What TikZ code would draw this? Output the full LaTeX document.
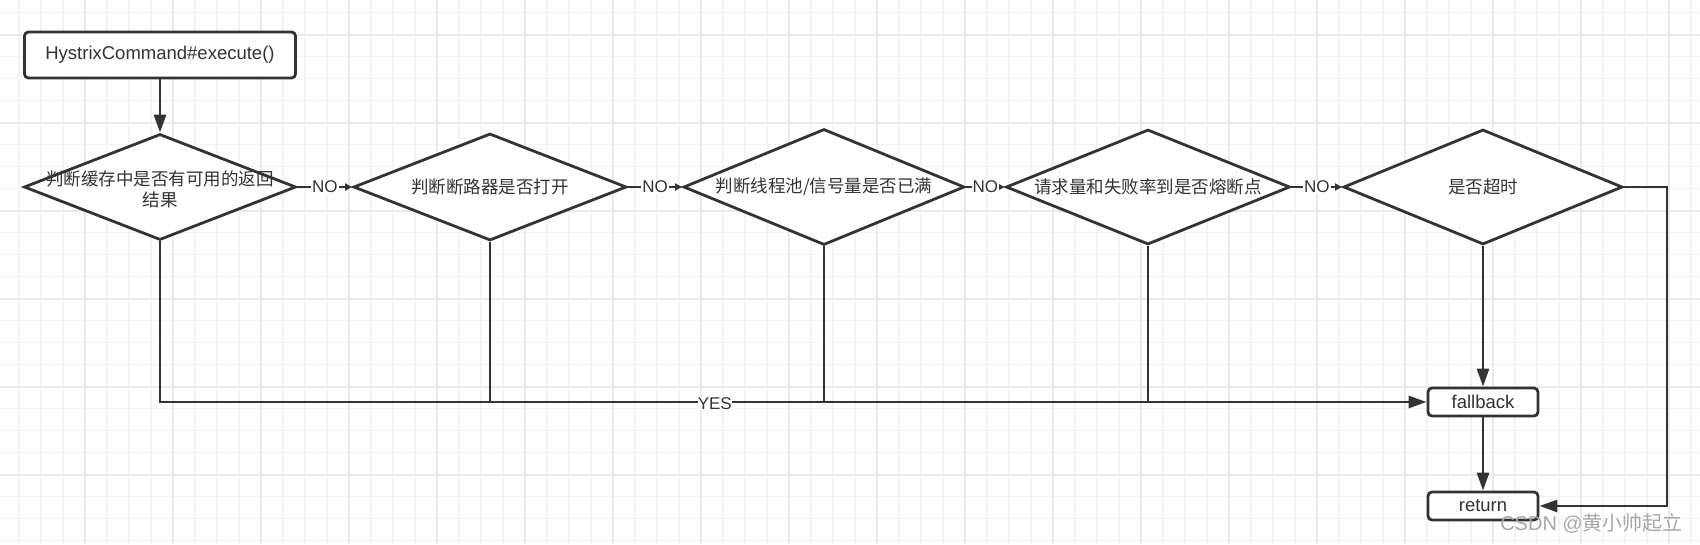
\documentclass[tikz,border=0pt]{standalone}
\usepackage{fontspec}
\setmainfont{Liberation Sans}
\newfontfamily\cjk{Noto Sans CJK SC}
\usetikzlibrary{shapes.geometric,arrows.meta}
\definecolor{ink}{HTML}{333333}
\definecolor{gridminor}{HTML}{F4F4F4}
\definecolor{gridmajor}{HTML}{EAEAEA}
\definecolor{wm}{HTML}{A8A8A8}
\tikzset{
  flow/.style={draw=ink, line width=2.8pt},
  dia/.style={flow, shape=diamond, inner sep=0pt, fill=white},
  boxnode/.style={flow, rounded corners=4pt, fill=white, inner sep=0pt, text=ink, font=\fontsize{18.5}{22}\selectfont},
  txt/.style={text=ink, font=\cjk\fontsize{17.5}{21}\selectfont, align=center, inner sep=0pt},
  bigarrow/.style={draw=ink, line width=2.8pt, -{Triangle[length=18pt,width=12pt]}},
  smallarrow/.style={draw=ink, line width=2.8pt, -{Triangle[length=7pt,width=7pt]}},
  plainline/.style={draw=ink, line width=2.8pt},
  lab/.style={fill=white, text=ink, inner sep=1pt, font=\fontsize{17}{19}\selectfont}
}
\begin{document}
\begin{tikzpicture}[x=1pt,y=-1pt]
\useasboundingbox (0,0) rectangle (1700,544);
\fill[white] (0,0) rectangle (1700,544);
% grid
\foreach \k in {0,...,76} {\draw[gridminor, line width=1.2pt] ({19+22*\k},0) -- ({19+22*\k},544);}
\foreach \k in {0,...,24} {\draw[gridminor, line width=1.2pt] (0,{12.7+22*\k}) -- (1700,{12.7+22*\k});}
\foreach \k in {0,...,18} {\draw[gridmajor, line width=1.6pt] ({85+88*\k},0) -- ({85+88*\k},544);}
\foreach \k in {0,...,5} {\draw[gridmajor, line width=1.6pt] (0,{34.7+88*\k}) -- (1700,{34.7+88*\k});}

% nodes
\node[boxnode, minimum width=271pt, minimum height=46pt] (start) at (160,55) {HystrixCommand\#execute()};
\node[dia, minimum width=272pt, minimum height=106pt] (d1) at (160,187) {};
\node[dia, minimum width=273pt, minimum height=107pt] (d2) at (490,187) {};
\node[dia, minimum width=281pt, minimum height=116pt] (d3) at (824,187) {};
\node[dia, minimum width=284pt, minimum height=115pt] (d4) at (1148,187) {};
\node[dia, minimum width=279pt, minimum height=115pt] (d5) at (1483,187) {};
\node[txt] (t1) at (160,189) {判断缓存中是否有可用的返回\\结果};
\node[txt] (t2) at (d2) {判断断路器是否打开};
\node[txt] (t3) at (d3) {判断线程池/信号量是否已满};
\node[txt] (t4) at (d4) {请求量和失败率到是否熔断点};
\node[txt] (t5) at (d5) {是否超时};
\node[boxnode, minimum width=110pt, minimum height=28pt] (fb) at (1483,402) {fallback};
\node[boxnode, minimum width=110pt, minimum height=28pt] (ret) at (1483,506) {return};
\coordinate (r1) at (1667,187);

% connectors
\draw[bigarrow] (start.south) -- (d1.north);
\draw[smallarrow] (d1.east) -- node[lab]{NO} (d2.west);
\draw[smallarrow] (d2.east) -- node[lab]{NO} (d3.west);
\draw[smallarrow] (d3.east) -- node[lab]{NO} (d4.west);
\draw[smallarrow] (d4.east) -- node[lab]{NO} (d5.west);
\draw[plainline] (d2.south) -- (d2.south |- fb.west);
\draw[plainline] (d3.south) -- (d3.south |- fb.west);
\draw[plainline] (d4.south) -- (d4.south |- fb.west);
\draw[bigarrow] (d1.south) |- node[pos=0.719, lab, yshift=-2pt, inner sep=0pt]{YES} (fb.west);
\draw[bigarrow] (d5.south) -- (fb.north);
\draw[bigarrow] (fb.south) -- (ret.north);
\draw[bigarrow] (d5.east) -- (r1) |- (ret.east);

\node[text=wm, font=\fontsize{20}{22}\selectfont, anchor=east, inner sep=0pt] (wmk) at (1683,523) {CSDN @{\cjk 黄小帅起立}};
\end{tikzpicture}
\end{document}
